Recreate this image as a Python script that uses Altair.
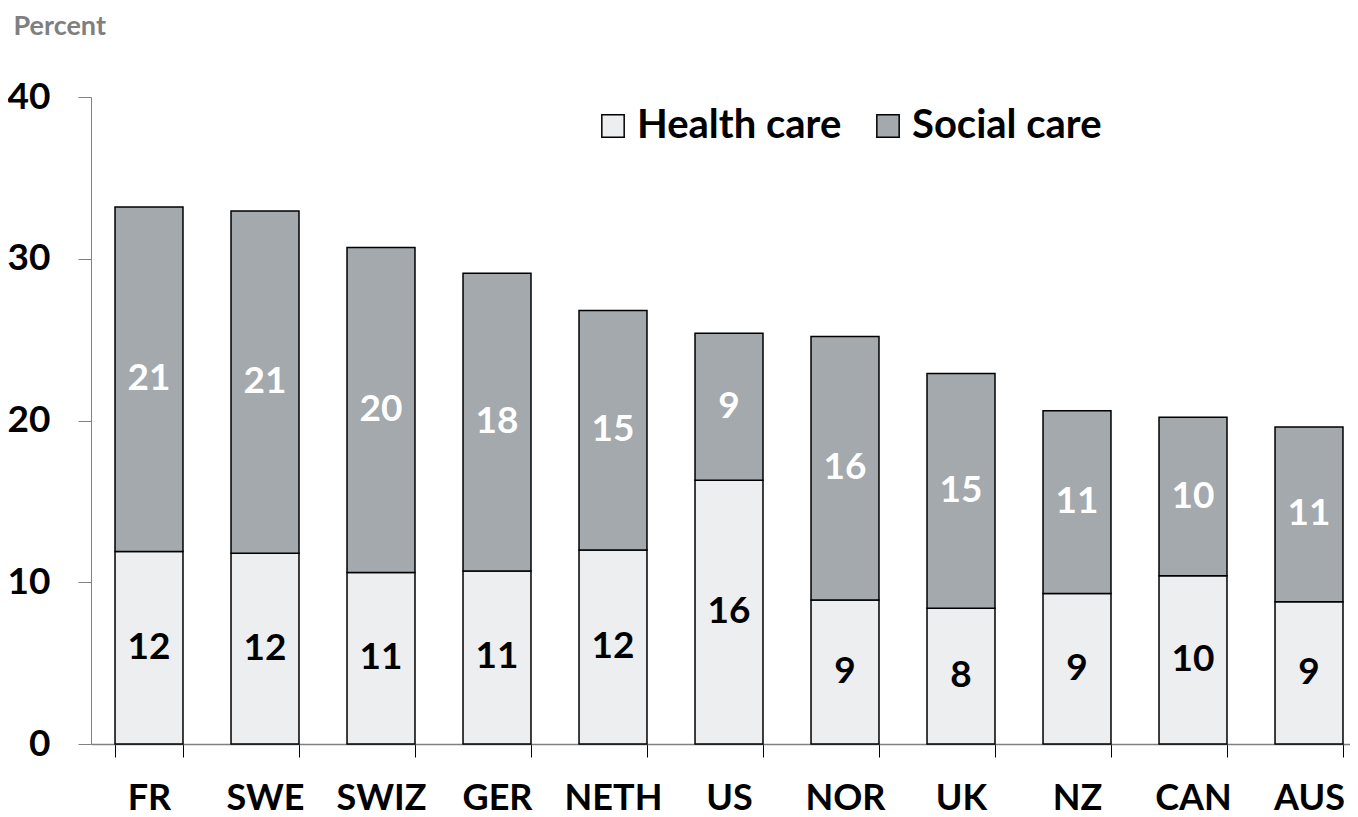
import altair as alt
import pandas as pd

countries = ["FR", "SWE", "SWIZ", "GER", "NETH", "US", "NOR", "UK", "NZ", "CAN", "AUS"]
health = [11.9, 11.8, 10.6, 10.7, 12.0, 16.3, 8.9, 8.4, 9.3, 10.4, 8.8]
social = [21.3, 21.15, 20.1, 18.4, 14.8, 9.1, 16.3, 14.5, 11.3, 9.8, 10.8]
series_names = ["Health care", "Social care"]
fill_colors = ["#EDEEF0", "#A3A9AC"]
y_ticks = [0, 10, 20, 30, 40]

rows = []
for c, h, s in zip(countries, health, social):
    rows.append({"country": c, "series": series_names[0], "start": 0.0, "end": h, "value": h})
    rows.append({"country": c, "series": series_names[1], "start": h, "end": h + s, "value": s})
df = pd.DataFrame(rows)
df["mid"] = (df["start"] + df["end"]) / 2

FONT = "Lato"
FS = 37

x = alt.X(
    "country:N",
    sort=countries,
    scale=alt.Scale(range=[0, 1276], paddingInner=0.414, paddingOuter=0.207),
    axis=alt.Axis(
        title=None, labelAngle=0, tickBand="extent", tickSize=13, tickColor="black",
        tickWidth=1, domainColor="#808080", domainWidth=1.5, labelPadding=24,
        labelFont=FONT, labelFontSize=36, labelFontWeight="bold", labelColor="black",
    ),
)
y_axis = alt.Axis(
    values=y_ticks, tickSize=13, tickColor="#808080", domainColor="#808080",
    labelPadding=28, labelFont=FONT, labelFontSize=FS, labelFontWeight="bold",
    labelColor="black", grid=False,
    title="Percent", titleAngle=0, titleAlign="left", titleBaseline="top",
    titleX=-78, titleY=-84, titleFont=FONT, titleFontSize=27, titleFontWeight="bold",
    titleColor="#7F7F7F",
)

base = alt.Chart(df)
bars = base.mark_bar(stroke="black", strokeWidth=1.5).encode(
    x=x,
    y=alt.Y("start:Q", scale=alt.Scale(domain=[0, 40], nice=False), axis=y_axis),
    y2="end:Q",
    color=alt.Color(
        "series:N",
        scale=alt.Scale(domain=series_names, range=fill_colors),
        legend=alt.Legend(
            orient="none", legendX=502, legendY=9, direction="horizontal", title=None,
            symbolType="square", symbolSize=500, symbolStrokeColor="black",
            symbolStrokeWidth=1.5, symbolOpacity=1, labelFont=FONT, labelFontSize=40,
            labelFontWeight="bold", labelColor="black", labelOffset=4, labelLimit=0,
            columnPadding=26, padding=0,
        ),
    ),
)
labels = base.mark_text(font=FONT, fontSize=FS, fontWeight="bold", baseline="middle").encode(
    x=alt.X("country:N", sort=countries),
    y=alt.Y("mid:Q"),
    text=alt.Text("value:Q", format=".0f"),
    color=alt.condition(alt.datum.series == "Health care", alt.value("black"), alt.value("white")),
)

chart = (
    alt.layer(bars, labels)
    .properties(
        width=1259, height=647,
        autosize=alt.AutoSizeParams(type="none"),
        padding={"left": 83, "top": 89, "right": 0, "bottom": 73},
    )
    .configure_view(stroke=None)
)
chart.save("out.html", embed_options={"renderer": "svg", "actions": False})
